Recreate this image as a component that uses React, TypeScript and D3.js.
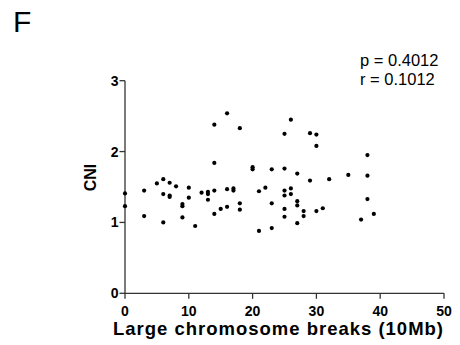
import React from "react";
import * as d3 from "d3";

const breaks: number[] = [
  0, 0, 3, 3, 5, 6, 6, 6, 7, 7, 7, 8, 9, 9, 9, 10, 10, 11, 12, 13, 13, 13,
  14, 14, 14, 14, 15, 16, 16, 16, 17, 17, 18, 18, 18, 20, 20, 21, 21, 22, 23, 23, 23,
  25, 25, 25, 25, 25, 25, 26, 26, 26, 27, 27, 27, 27,
  28, 28, 29, 29, 30, 30, 30, 31, 32, 35, 37, 38, 38, 38, 39,
];
const cni: number[] = [
  1.41, 1.23, 1.45, 1.09, 1.55, 1.61, 1.40, 1.00, 1.56, 1.38, 1.36, 1.51, 1.26, 1.23, 1.07, 1.49, 1.35, 0.95, 1.42, 1.43, 1.40, 1.32,
  2.38, 1.84, 1.45, 1.12, 1.19, 2.54, 1.47, 1.22, 1.48, 1.45, 2.33, 1.27, 1.18, 1.78, 1.75, 1.44, 0.88, 1.49, 1.75, 1.27, 0.92,
  2.25, 1.76, 1.45, 1.38, 1.19, 1.08, 2.45, 1.48, 1.40, 1.69, 1.30, 1.24, 0.99,
  1.16, 1.09, 2.26, 1.59, 2.24, 2.08, 1.16, 1.20, 1.61, 1.67, 1.04, 1.95, 1.66, 1.33, 1.12,
];
const xTicks: number[] = [0, 10, 20, 30, 40, 50];
const yTicks: number[] = [0, 1, 2, 3];
const statLines: string[] = ["p = 0.4012", "r = 0.1012"];

const FONT = "'Liberation Sans', Arial, Helvetica, sans-serif";

export default function App() {
  const x = d3.scaleLinear().domain([0, 50]).range([125, 444]);
  const y = d3.scaleLinear().domain([0, 3]).range([293.3, 80.7]);
  const axisColor = "#333";
  return (
    <div style={{ position: "absolute", left: 0, top: 0 }}>
      <svg width={460} height={345} style={{ display: "block", fontFamily: FONT }}>
        <rect width={460} height={345} fill="#fff" />
        <text x={13} y={32} fontSize={30} fill="#000">F</text>
        {statLines.map((s, i) => (
          <text key={s} x={360} y={66 + i * 19} fontSize={16.5} fill="#000">{s}</text>
        ))}
        {/* y axis */}
        <line x1={x(0)} x2={x(0)} y1={y(3)} y2={y(0)} stroke={axisColor} strokeWidth={1.3} />
        {yTicks.map((t) => (
          <g key={"y" + t}>
            <line x1={x(0) - 5.5} x2={x(0)} y1={y(t)} y2={y(t)} stroke={axisColor} strokeWidth={1.3} />
            <text x={118.5} y={y(t) + 5} fontSize={14} fontWeight="bold" textAnchor="end" fill="#000">{t}</text>
          </g>
        ))}
        {/* x axis */}
        <line x1={x(0)} x2={x(50)} y1={y(0)} y2={y(0)} stroke={axisColor} strokeWidth={1.3} />
        {xTicks.map((t) => (
          <g key={"x" + t}>
            <line x1={x(t)} x2={x(t)} y1={y(0)} y2={y(0) + 5.5} stroke={axisColor} strokeWidth={1.3} />
            <text x={x(t)} y={315.5} fontSize={14} fontWeight="bold" textAnchor="middle" fill="#000">{t}</text>
          </g>
        ))}
        <text x={278} y={334.5} fontSize={18.5} fontWeight="bold" textAnchor="middle" fill="#000"
          textLength={330} lengthAdjust="spacing">
          Large chromosome breaks (10Mb)
        </text>
        <text transform={`translate(96,177.5) rotate(-90)`} fontSize={16} fontWeight="bold" textAnchor="middle" fill="#000">
          CNI
        </text>
        {breaks.map((b, i) => (
          <circle key={i} cx={x(b)} cy={y(cni[i])} r={2.1} fill="#000" />
        ))}
      </svg>
    </div>
  );
}
